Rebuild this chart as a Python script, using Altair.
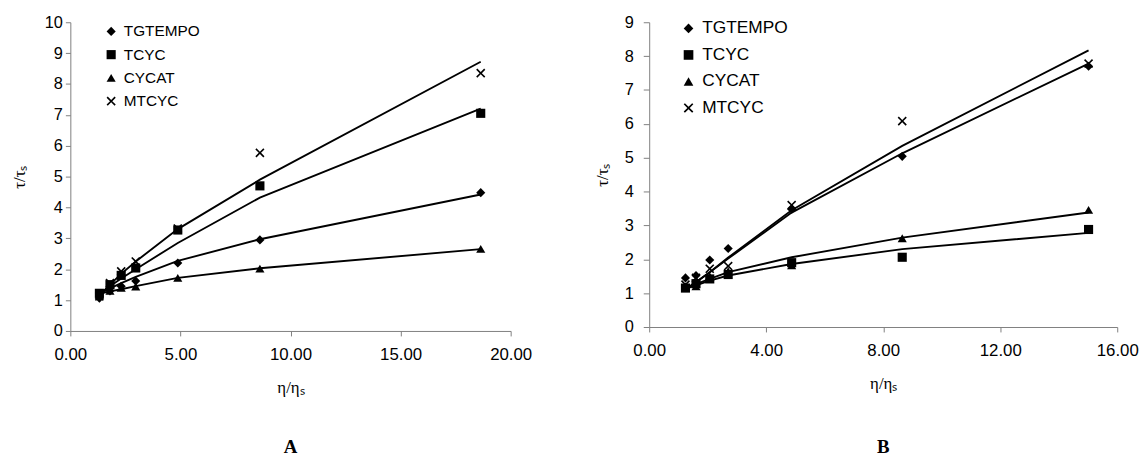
import altair as alt
import pandas as pd

series = ["TGTEMPO", "TCYC", "CYCAT", "MTCYC"]
X_PATH = ("M-1,-0.75L-0.75,-1L0,-0.25L0.75,-1L1,-0.75L0.25,0L1,0.75"
          "L0.75,1L0,0.25L-0.75,1L-1,0.75L-0.25,0Z")
shape_range = ["diamond", "square", "triangle-up", X_PATH]

# ---------------- Panel A ----------------
xA = [1.32, 1.80, 2.31, 2.97, 4.88, 8.61, 18.64]
tgtempoA = [1.06, 1.30, 1.45, 1.62, 2.20, 2.95, 4.48]
tcycA = [1.22, 1.50, 1.80, 2.04, 3.27, 4.70, 7.05]
cycatA = [1.18, 1.30, 1.40, 1.44, 1.72, 2.02, 2.66]
mtcycA = [1.12, 1.55, 1.93, 2.25, 3.32, 5.77, 8.35]

tgtempoA_fit = [1.20, 1.38, 1.55, 1.75, 2.27, 2.97, 4.42]
tcycA_fit = [1.18, 1.45, 1.70, 2.00, 2.85, 4.32, 7.20]
cycatA_fit = [1.20, 1.28, 1.35, 1.45, 1.72, 2.03, 2.65]
mtcycA_fit = [1.15, 1.50, 1.85, 2.25, 3.30, 4.90, 8.72]

# ---------------- Panel B ----------------
xB = [1.24, 1.60, 2.07, 2.70, 4.87, 8.65, 15.02]
tgtempoB = [1.45, 1.52, 1.98, 2.32, 3.48, 5.04, 7.70]
tcycB = [1.15, 1.28, 1.42, 1.55, 1.90, 2.06, 2.88]
cycatB = [1.20, 1.20, 1.50, 1.65, 1.82, 2.62, 3.46]
mtcycB = [1.25, 1.45, 1.72, 1.80, 3.60, 6.08, 7.78]

tgtempoB_fit = [1.12, 1.33, 1.62, 2.02, 3.38, 5.13, 7.78]
tcycB_fit = [1.13, 1.23, 1.37, 1.52, 1.86, 2.30, 2.78]
cycatB_fit = [1.15, 1.27, 1.42, 1.62, 2.06, 2.64, 3.38]
mtcycB_fit = [1.10, 1.32, 1.62, 2.05, 3.45, 5.35, 8.17]


def long_df(x, ys, fits):
    rows = []
    for name, yv, fv in zip(series, ys, fits):
        for xi, yi, fi in zip(x, yv, fv):
            rows.append({"x": xi, "y": yi, "fit": fi, "series": name})
    return pd.DataFrame(rows)


dfA = long_df(xA, [tgtempoA, tcycA, cycatA, mtcycA],
              [tgtempoA_fit, tcycA_fit, cycatA_fit, mtcycA_fit])
dfB = long_df(xB, [tgtempoB, tcycB, cycatB, mtcycB],
              [tgtempoB_fit, tcycB_fit, cycatB_fit, mtcycB_fit])

GREY = "#808080"


def panel(df, xmax, xstep, ymax, width, height, ytick, ylabpad, ytitlepad,
          legx, legy, legfont, legsym, legrow, label, toffset):
    xscale = alt.Scale(domain=[0, xmax], nice=False, zero=True)
    yscale = alt.Scale(domain=[0, ymax], nice=False, zero=True)
    xaxis = alt.Axis(values=list(range(0, xmax + 1, xstep)), format=".2f",
                     title="η/ηₛ", grid=False, domainColor=GREY, domainWidth=1,
                     tickColor=GREY, tickSize=5, labelPadding=11,
                     labelFont="Liberation Sans", labelFontSize=17,
                     labelColor="black", labelFlush=False,
                     titleFont="Liberation Serif", titleFontSize=17,
                     titleFontWeight="normal", titleColor="black",
                     titlePadding=17)
    yaxis = alt.Axis(values=list(range(0, ymax + 1)), format="d",
                     title="τ/τₛ", grid=False, domainColor=GREY, domainWidth=1,
                     tickColor=GREY, tickSize=ytick, labelPadding=ylabpad,
                     labelFont="Liberation Sans", labelFontSize=16.5,
                     labelColor="black", labelFlush=False,
                     titleFont="Liberation Serif", titleFontSize=17,
                     titleFontWeight="normal", titleColor="black",
                     titlePadding=ytitlepad)
    x_enc = alt.X("x:Q", scale=xscale, axis=xaxis)
    lines = alt.Chart(df).mark_line(color="black", strokeWidth=1.9).encode(
        x=x_enc,
        y=alt.Y("fit:Q", scale=yscale, axis=yaxis),
        detail="series:N",
        order="x:Q",
    )
    points = alt.Chart(df).mark_point(
        filled=True, color="black", opacity=1, size=85
    ).encode(
        x=x_enc,
        y=alt.Y("y:Q", scale=yscale, axis=yaxis),
        shape=alt.Shape(
            "series:N",
            scale=alt.Scale(domain=series, range=shape_range),
            legend=alt.Legend(
                title=None, orient="none", legendX=legx, legendY=legy,
                padding=0, labelFont="Liberation Sans",
                labelFontSize=legfont, labelColor="black", labelLimit=0,
                symbolSize=legsym, symbolFillColor="black",
                symbolOpacity=1, rowPadding=legrow, labelOffset=5,
            ),
        ),
    )
    return alt.layer(lines, points).properties(
        width=width, height=height,
        title=alt.TitleParams(label, orient="bottom", anchor="middle",
                              frame="group", font="Liberation Serif",
                              fontSize=19, fontWeight="bold", color="black",
                              offset=toffset),
    )


chartA = panel(dfA, 20, 5, 10, 445, 312, 5, 3, 16, 33.5, 1.5, 15.5, 85, 6.5, "A", 43)
chartB = panel(dfB, 16, 4, 9, 473, 308, 6, 10, 13, 31, -2.5, 17.5, 95, 7.8, "B", 47)

chart = alt.hconcat(chartA, chartB, spacing=61).resolve_scale(
    shape="independent", x="independent", y="independent"
).resolve_legend(shape="independent").properties(
    padding={"left": 2, "top": 4, "right": 0, "bottom": 0},
    background="white",
).configure_view(stroke=None)

chart.save("out.html", embed_options={"renderer": "svg", "actions": False})
